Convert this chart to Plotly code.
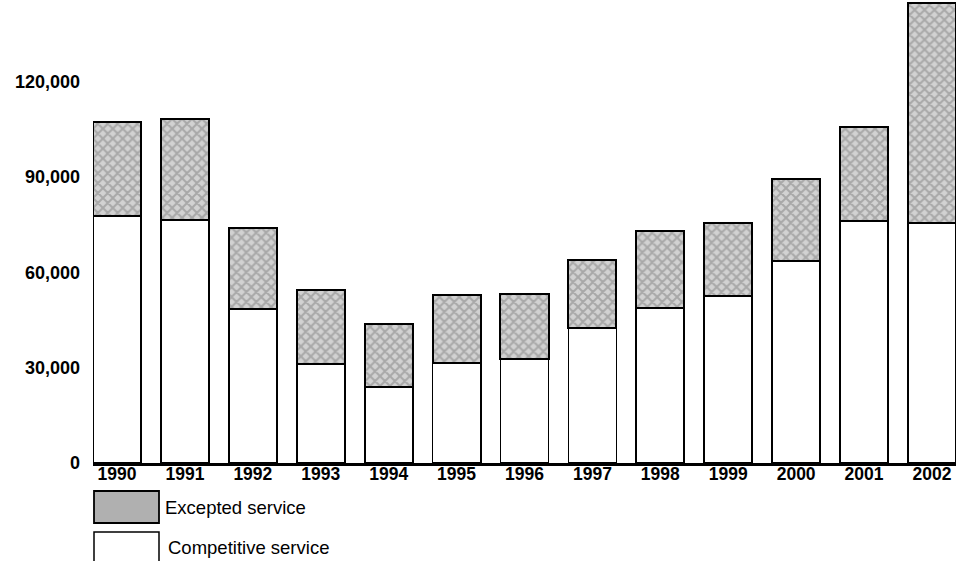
import plotly.graph_objects as go

years = ["1990", "1991", "1992", "1993", "1994", "1995", "1996",
         "1997", "1998", "1999", "2000", "2001", "2002"]
competitive = [77800, 76500, 48400, 31200, 23800, 31400, 32600,
               42400, 48700, 52600, 63400, 76200, 75600]
totals = [107100, 108200, 73800, 54500, 43800, 52700, 53200,
          63900, 73000, 75400, 89400, 105700, 144700]
excepted = [t - c for t, c in zip(totals, competitive)]
ytick_vals = [0, 30000, 60000, 90000, 120000]

FONT = "Liberation Sans, Arial, sans-serif"
W, H = 966, 561
L, R, T, B = 93, 10, 0, 98
pw, ph = W - L - R, H - T - B

fig = go.Figure()
fig.add_trace(go.Bar(
    x=years, y=competitive, name="Competitive service",
    marker=dict(color="white", line=dict(color="black", width=1.8)),
))
fig.add_trace(go.Bar(
    x=years, y=excepted, name="Excepted service",
    marker=dict(color="#cccccc", line=dict(color="black", width=2),
                pattern=dict(shape="x", fgcolor="#7e7e7e", bgcolor="#d2d2d2",
                             size=7, solidity=0.5)),
))

def px_x(p):
    return (p - L) / pw

def px_y(p):
    return (H - B - p) / ph

shapes = [
    dict(type="rect", xref="paper", yref="paper",
         x0=px_x(94), x1=px_x(159), y0=px_y(523), y1=px_y(491),
         fillcolor="#b0b0b0", line=dict(color="black", width=1.8)),
    dict(type="rect", xref="paper", yref="paper",
         x0=px_x(94), x1=px_x(159), y0=px_y(566), y1=px_y(532),
         fillcolor="white", line=dict(color="black", width=1.5)),
]
annotations = [
    dict(text="Excepted service", xref="paper", yref="paper",
         x=px_x(163), y=px_y(507), xanchor="left", yanchor="middle",
         showarrow=False, font=dict(family=FONT, size=18.5, color="black")),
    dict(text="Competitive service", xref="paper", yref="paper",
         x=px_x(166), y=px_y(547), xanchor="left", yanchor="middle",
         showarrow=False, font=dict(family=FONT, size=18.5, color="black")),
]

fig.update_layout(
    width=W, height=H, barmode="stack", bargap=0.293,
    plot_bgcolor="white", paper_bgcolor="white",
    margin=dict(l=L, r=R, t=T, b=B, autoexpand=False),
    showlegend=False,
    font=dict(family=FONT, color="black"),
    shapes=shapes, annotations=annotations,
    xaxis=dict(showline=True, linecolor="black", linewidth=2.5,
               showgrid=False, ticks="", range=[-0.354, 12.354],
               tickfont=dict(family=FONT, size=17.5, weight="bold"),
               ticklabelstandoff=-7),
    yaxis=dict(showline=False, showgrid=False, zeroline=False, ticks="",
               range=[0, 145600], tickvals=ytick_vals, tickformat=",d",
               tickfont=dict(family=FONT, size=18, weight="bold"),
               ticklabelstandoff=12),
)

fig.write_html("out.html",
               config={"displayModeBar": False},
               post_script="document.body.style.margin='0px';document.body.style.padding='0px';")
